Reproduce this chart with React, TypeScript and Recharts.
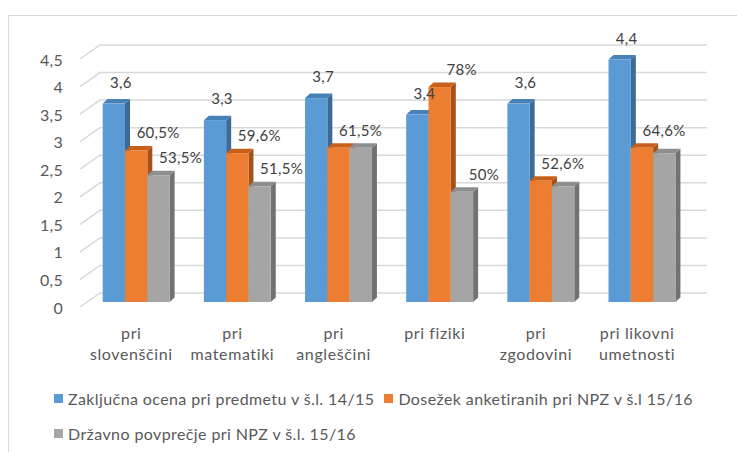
import React from 'react';
import { BarChart, Bar, XAxis, YAxis, CartesianGrid, Legend, LabelList } from 'recharts';

const categories = [
  'pri\nslovenščini',
  'pri\nmatematiki',
  'pri\nangleščini',
  'pri fiziki',
  'pri\nzgodovini',
  'pri likovni\numetnosti',
];
const seriesNames = [
  'Zaključna ocena pri predmetu v š.l. 14/15',
  'Dosežek anketiranih pri NPZ v š.l 15/16',
  'Državno povprečje pri NPZ v š.l. 15/16',
];
const finalGrade = [3.6, 3.3, 3.7, 3.4, 3.6, 4.4];
const surveyedScore = [2.75, 2.7, 2.8, 3.9, 2.2, 2.8];
const nationalAvg = [2.3, 2.1, 2.8, 2.0, 2.1, 2.7];
const finalGradeLabels = ['3,6', '3,3', '3,7', '3,4', '3,6', '4,4'];
const surveyedLabels = ['60,5%', '59,6%', '61,5%', '78%', '52,6%', '64,6%'];
const nationalLabels = ['53,5%', '51,5%', '', '50%', '', ''];
const yTicks = [0, 0.5, 1, 1.5, 2, 2.5, 3, 3.5, 4, 4.5];
const yTickLabels = ['0', '0,5', '1', '1,5', '2', '2,5', '3', '3,5', '4', '4,5'];

const data = categories.map((c, i) => ({
  category: c,
  grade: finalGrade[i],
  surveyed: surveyedScore[i],
  national: nationalAvg[i],
  gradeLabel: finalGradeLabels[i],
  surveyedLabel: surveyedLabels[i],
  nationalLabel: nationalLabels[i],
}));

const FONT = 'Lato, "Open Sans", sans-serif';
const TEXT = '#595959';
const DEPTH_X = 5;
const DEPTH_Y = 4.5;

const make3D = (front: string, top: string, side: string) => (props: any) => {
  const { x, y, width, height } = props;
  if (!height || height <= 0) return <g />;
  const r = x + width;
  const b = y + height;
  return (
    <g>
      <polygon points={`${r},${y} ${r + DEPTH_X},${y - DEPTH_Y} ${r + DEPTH_X},${b - DEPTH_Y} ${r},${b}`} fill={side} />
      <polygon points={`${x},${y} ${x + DEPTH_X},${y - DEPTH_Y} ${r + DEPTH_X},${y - DEPTH_Y} ${r},${y}`} fill={top} />
      <rect x={x} y={y} width={width} height={height} fill={front} />
    </g>
  );
};

const makeLabel = (offX: number, offY: number) => (props: any) => {
  const { x, y, width, value } = props;
  if (!value) return <g />;
  return (
    <text
      x={x + width / 2 + offX}
      y={y - offY}
      textAnchor="middle"
      dominantBaseline="central"
      fontSize={15}
      fontFamily={FONT}
      fill="#404040"
      letterSpacing={0.3}
    >
      {value}
    </text>
  );
};

const gridLine = (p: any) => {
  const { x1, x2, y1, index } = p;
  const d = `M${x1 - 5.7},${y1 + 5} L${x1 + 14.3},${y1 - 9} L${x2 + 14.3},${y1 - 9}`;
  return <path key={`g-${index}`} d={d} stroke="#d9d9d9" strokeWidth={1.5} fill="none" />;
};

const XTick = (p: any) => {
  const { x, y, payload } = p;
  const lines = String(payload.value).split('\n');
  return (
    <g>
      {lines.map((l, i) => (
        <text
          key={i}
          x={x - 5}
          y={y + 30 + i * 21.6}
          textAnchor="middle"
          dominantBaseline="central"
          fontSize={16}
          fontFamily={FONT}
          fill={TEXT}
          letterSpacing={0.6}
        >
          {l}
        </text>
      ))}
    </g>
  );
};

const YTick = (p: any) => {
  const { x, y, payload } = p;
  const idx = yTicks.indexOf(payload.value);
  return (
    <text
      x={x - 22.7}
      y={y + 5}
      textAnchor="end"
      dominantBaseline="central"
      fontSize={16}
      fontFamily={FONT}
      fill={TEXT}
      letterSpacing={0.3}
    >
      {idx >= 0 ? yTickLabels[idx] : payload.value}
    </text>
  );
};

const renderLegend = (props: any) => {
  const payload = [...(props.payload || [])].sort(
    (a: any, b: any) => seriesNames.indexOf(a.value) - seriesNames.indexOf(b.value)
  );
  return (
    <div style={{ display: 'flex', flexWrap: 'wrap', width: 680, rowGap: 15, fontFamily: FONT, fontSize: 16, color: TEXT, letterSpacing: 0.4 }}>
      {payload.map((e: any, i: number) => (
        <div key={i} style={{ display: 'flex', alignItems: 'center', height: 20, marginRight: 10 }}>
          <span style={{ display: 'inline-block', width: 9, height: 9, background: e.color, marginRight: 5 }} />
          <span style={{ whiteSpace: 'nowrap' }}>{e.value}</span>
        </div>
      ))}
    </div>
  );
};

export default function App() {
  return (
    <div style={{ position: 'absolute', left: 0, top: 0, width: 737, height: 452, overflow: 'hidden', background: '#fff' }}>
      <div style={{ position: 'absolute', left: 8, top: 15, width: 780, height: 480, border: '1px solid #d9d9d9' }} />
      <div style={{ position: 'absolute', left: 0, top: 0 }}>
        <BarChart
          width={737}
          height={452}
          data={data}
          margin={{ top: 54, right: 44.3, left: 25.7, bottom: 110 }}
          barSize={22.3}
          barGap={0}
        >
          <CartesianGrid vertical={false} horizontal={gridLine} />
          <XAxis
            dataKey="category"
            axisLine={false}
            tickLine={false}
            tickSize={0}
            tickMargin={0}
            height={40}
            interval={0}
            tick={<XTick />}
          />
          <YAxis
            domain={[0, 4.5]}
            ticks={yTicks}
            width={60}
            axisLine={false}
            tickLine={false}
            tickSize={0}
            tickMargin={0}
            interval={0}
            tick={<YTick />}
          />
          <Legend
            layout="horizontal"
            verticalAlign="middle"
            align="center"
            wrapperStyle={{ top: 388, left: 54, width: 680 }}
            content={renderLegend}
          />
          <Bar dataKey="grade" name={seriesNames[0]} fill="#5b9bd5" isAnimationActive={false} shape={make3D('#5b9bd5', '#4a80b8', '#3d6a96')}>
            <LabelList dataKey="gradeLabel" content={makeLabel(7, 22)} />
          </Bar>
          <Bar dataKey="surveyed" name={seriesNames[1]} fill="#ed7d31" isAnimationActive={false} shape={make3D('#ed7d31', '#c8601c', '#a5521a')}>
            <LabelList dataKey="surveyedLabel" content={makeLabel(22, 18)} />
          </Bar>
          <Bar dataKey="national" name={seriesNames[2]} fill="#a5a5a5" isAnimationActive={false} shape={make3D('#a5a5a5', '#8e8e8e', '#727272')}>
            <LabelList dataKey="nationalLabel" content={makeLabel(22, 18)} />
          </Bar>
        </BarChart>
      </div>
    </div>
  );
}
